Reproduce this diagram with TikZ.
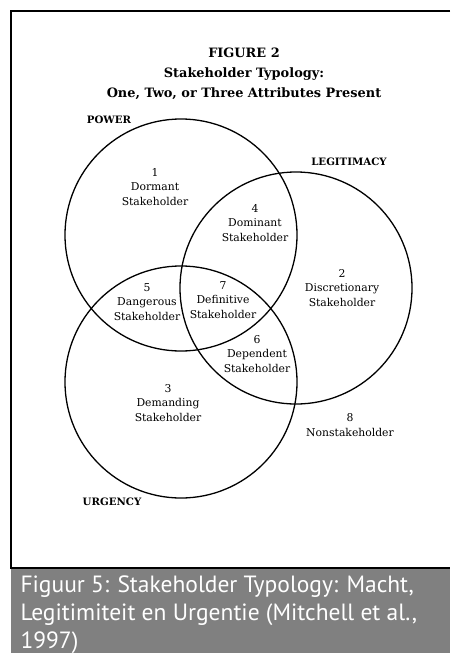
\documentclass[tikz,border=0pt]{standalone}
\usepackage{fontspec}
\setmainfont{DejaVu Serif}
\newfontfamily\capfont{PT Sans}
\usepackage{tikz}

\tikzset{
  zone/.style={align=center, font=\fontsize{10.8}{14.2}\selectfont},
  attr/.style={font=\bfseries\fontsize{10.2}{12}\selectfont},
  ring/.style={line width=1.3pt}
}

\begin{document}
\begin{tikzpicture}[x=1pt,y=-1pt]
    \useasboundingbox (0,0) rectangle (450,653);
    % frame and caption bar
    \fill[black!50] (11,568) rectangle (450,653);
    \draw[line width=2pt] (450,10.5) -- (11,10.5) -- (11,568) -- (450,568);
    % title
    \node[align=center, font=\bfseries\fontsize{12.9}{20}\selectfont] (title) at (244,74)
      {FIGURE 2\\Stakeholder Typology:\\One, Two, or Three Attributes Present};
    % the three attributes
    \coordinate (pow) at (181,235);
    \coordinate (leg) at (296,288);
    \coordinate (urg) at (181,382);
    \draw[ring] (pow) circle (116);
    \draw[ring] (leg) circle (116);
    \draw[ring] (urg) circle (116);
    \node[attr] (powlbl) at (109,120) {POWER};
    \node[attr] (leglbl) at (349,162) {LEGITIMACY};
    \node[attr] (urglbl) at (112,502) {URGENCY};
    % stakeholder classes
    \node[zone] (dormant) at (155,187) {1\\Dormant\\Stakeholder};
    \node[zone] (dominant) at (255,223) {4\\Dominant\\Stakeholder};
    \node[zone] (discret) at (342,288) {2\\Discretionary\\Stakeholder};
    \node[zone] (danger) at (147,302) {5\\Dangerous\\Stakeholder};
    \node[zone] (defin) at (223,300) {7\\Definitive\\Stakeholder};
    \node[zone] (depend) at (257,354) {6\\Dependent\\Stakeholder};
    \node[zone] (demand) at (168,403) {3\\Demanding\\Stakeholder};
    \node[zone] (nonst) at (350,425) {8\\Nonstakeholder};
    % caption (base = last line)
    \node[anchor=base west, align=left, text=white,
          font=\capfont\fontsize{23.5}{28}\selectfont] (caption) at (17,648)
      {Figuur 5: Stakeholder Typology: Macht,\\Legitimiteit en Urgentie (Mitchell et al.,\\1997)};
\end{tikzpicture}
\end{document}
